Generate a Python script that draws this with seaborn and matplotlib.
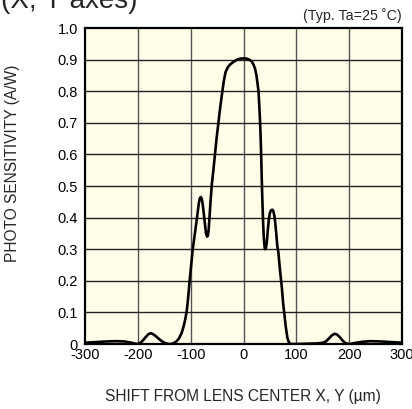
import numpy as np
import pandas as pd
import matplotlib
matplotlib.use('Agg')
import matplotlib.pyplot as plt
import seaborn as sns

# значення (мкм -> А/Вт)
shift_um = [-300, -280, -260, -240, -225, -212, -205, -200, -195, -190, -185,
            -180, -176, -172, -166, -160, -154, -148, -142, -137, -132, -127,
            -122, -117, -113, -110, -107, -104, -102, -99, -96, -92, -88, -85,
            -83, -81, -79, -77, -75, -73, -71, -69, -67.5, -66, -64, -62, -60,
            -57, -54, -51, -47.5, -44, -40, -37, -34, -30, -25, -18, -12, -6,
            0, 6, 12, 16, 19, 22, 24.5, 26.5, 28.4, 30, 31.5, 32.5, 33.4, 34.6,
            35.8, 37.2, 38.5, 40, 41, 42.5, 44, 46, 48, 50, 52, 54.5, 56.6,
            58.5, 60, 62, 64, 66, 69, 72.5, 75, 77, 80, 83, 86, 90, 100, 120,
            140, 150, 156, 162, 167, 172, 176, 181, 186, 191, 196, 202, 210,
            225, 240, 260, 280, 300]
sensitivity = [0.004, 0.006, 0.008, 0.009, 0.008, 0.004, 0.001, 0.0, 0.004,
               0.012, 0.022, 0.031, 0.034, 0.032, 0.025, 0.016, 0.008, 0.003,
               0.0, 0.0, 0.003, 0.008, 0.018, 0.035, 0.058, 0.08, 0.11, 0.16,
               0.2, 0.25, 0.3, 0.35, 0.40, 0.44, 0.46, 0.465, 0.46, 0.44, 0.41,
               0.38, 0.35, 0.34, 0.342, 0.36, 0.41, 0.46, 0.505, 0.55, 0.6,
               0.65, 0.7, 0.75, 0.8, 0.835, 0.86, 0.875, 0.885, 0.894, 0.9,
               0.903, 0.904, 0.903, 0.899, 0.893, 0.884, 0.87, 0.85, 0.825,
               0.8, 0.75, 0.7, 0.65, 0.6, 0.52, 0.45, 0.38, 0.335, 0.305, 0.3,
               0.305, 0.32, 0.36, 0.395, 0.415, 0.423, 0.425, 0.42, 0.405,
               0.385, 0.35, 0.31, 0.29, 0.235, 0.18, 0.13, 0.1, 0.055, 0.02,
               0.005, 0.0, 0.0, 0.001, 0.002, 0.004, 0.008, 0.018, 0.027,
               0.032, 0.031, 0.024, 0.014, 0.005, 0.001, 0.0, 0.003, 0.007,
               0.009, 0.008, 0.006, 0.004]

x_ticks = [-300, -200, -100, 0, 100, 200, 300]
y_ticks = [0, 0.1, 0.2, 0.3, 0.4, 0.5, 0.6, 0.7, 0.8, 0.9, 1.0]
y_labels = ['0', '0.1', '0.2', '0.3', '0.4', '0.5', '0.6', '0.7', '0.8', '0.9', '1.0']

df = pd.DataFrame({'shift': shift_um, 'sens': sensitivity})

sns.set_style('white')
plt.rcParams['font.family'] = ['Liberation Sans', 'DejaVu Sans']

fig = plt.figure(figsize=(4.12, 4.09), dpi=100)
ax = fig.add_axes([85 / 412, 65 / 409, 317 / 412, 316 / 409])
ax.set_facecolor('#FFFCE8')

for x in x_ticks[1:-1]:
    ax.axvline(x, color='#555555', lw=1.0, zorder=1)
for y in y_ticks[1:-1]:
    ax.axhline(y, color='#222222', lw=1.0, zorder=1)

sns.lineplot(data=df, x='shift', y='sens', ax=ax, color='black', lw=1.9,
             zorder=3, sort=False)

ax.set_xlim(-300, 300)
ax.set_ylim(0, 1.0)
ax.set_xticks(x_ticks)
ax.set_xticklabels([str(v) for v in x_ticks])
ax.set_yticks(y_ticks)
ax.set_yticklabels(y_labels)
ax.tick_params(axis='both', length=0, labelsize=10.5, colors='black')
ax.tick_params(axis='x', pad=3)
ax.tick_params(axis='y', pad=5)
for s in ax.spines.values():
    s.set_color('black')
    s.set_linewidth(1.6)
ax.set_xlabel('')
ax.set_ylabel('')

fig.text(243 / 412, 1 - 396 / 409, 'SHIFT FROM LENS CENTER X, Y (µm)',
         ha='center', va='center', fontsize=11.2)
fig.text(13 / 412, 1 - 163 / 409, 'PHOTO SENSITIVITY (A/W)', rotation=90,
         ha='center', va='center', fontsize=11.2)
fig.text(402 / 412, 1 - 20 / 409, '(Typ. Ta=25 ˚C)', ha='right',
         va='baseline', fontsize=10.3)
fig.text(0.003, 1 - 8 / 409, '(X, Y axes)', ha='left', va='baseline',
         fontsize=20)

plt.savefig('out.png', dpi=100)
